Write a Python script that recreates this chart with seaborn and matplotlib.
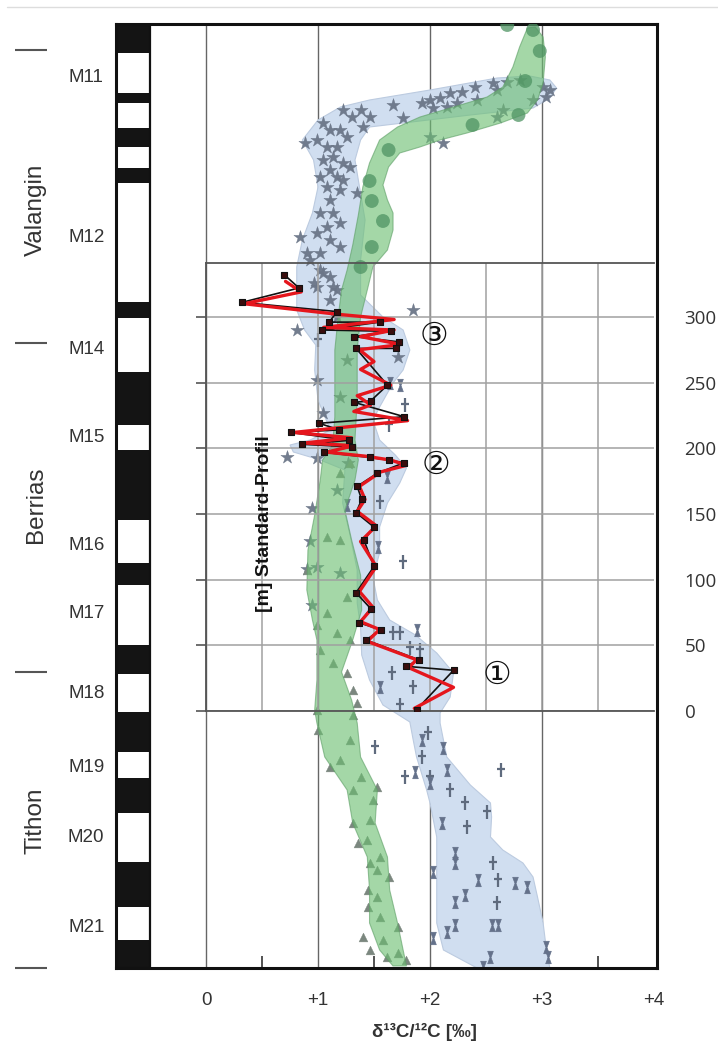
import numpy as np
import matplotlib
matplotlib.use("Agg")
import matplotlib.pyplot as plt
from matplotlib.lines import Line2D
from matplotlib.path import Path
import seaborn as sns

# ---------------- data ----------------
# composite column: relative height (0 = base of Tithon section, 944 = top)
chron_black_base = [915, 865, 821, 785, 650, 543, 448, 383, 294, 216, 155, 61, 0]
chron_black_top = [944, 875, 840, 800, 666, 596, 518, 405, 323, 256, 190, 106, 28]

chron_names = ['M11', 'M12', 'M14', 'M15', 'M16', 'M17', 'M18', 'M19', 'M20', 'M21']
chron_label_h = [890, 731, 619, 531, 422, 355, 275, 201, 131, 41]

stage_names = ['Valangin', 'Berrias', 'Tithon']
stage_label_h = [758, 463, 147]
stage_bounds_h = [918, 625, 296, 0]

# envelope of the star / cross data (blue)
blue_d13c = [0.81, 0.86, 0.95, 1.00, 0.96, 0.86, 1.00, 1.20, 1.46, 2.00, 2.60, 2.89, 3.07, 3.13,
             3.07, 2.92, 2.36, 1.76, 1.46, 1.38, 1.33, 1.36, 1.39, 1.42, 1.38, 1.38, 1.58, 1.76,
             1.82, 1.76, 1.67, 1.62, 1.55, 1.49, 1.55, 1.69, 1.79, 1.73, 1.62, 1.55, 1.55, 1.49,
             1.53, 1.64, 1.87, 2.06, 2.21, 2.18, 2.09, 2.09, 2.15, 2.36, 2.54, 2.55, 2.54, 2.65,
             2.83, 2.92, 2.96, 3.01, 3.04, 3.07, 2.42, 2.12, 2.06, 2.06, 2.06, 2.00, 1.97, 1.88,
             1.85, 1.82, 1.58, 1.46, 1.39, 1.38, 1.35, 1.35, 1.29, 1.22, 1.24, 1.02, 0.78, 0.75,
             0.93, 1.11, 1.00, 0.97, 0.98, 0.88, 0.81, 0.81]
blue_h = [701, 728, 755, 781, 808, 828, 848, 861, 868, 878, 890, 892, 888, 880,
          870, 860, 853, 845, 841, 828, 808, 788, 768, 748, 708, 673, 651, 638,
          618, 598, 585, 575, 561, 548, 528, 513, 500, 485, 465, 441, 415, 391,
          368, 348, 333, 315, 295, 271, 255, 245, 211, 183, 165, 151, 131, 118,
          105, 91, 71, 45, 18, 0, 0, 18, 45, 91, 131, 165, 178, 211,
          228, 246, 263, 288, 313, 341, 365, 398, 431, 465, 498, 508, 516, 523,
          528, 538, 568, 598, 623, 638, 658, 678]

# envelope of the circle / triangle data (green)
green_d13c = [2.87, 2.80, 2.74, 2.65, 2.51, 2.21, 1.91, 1.71, 1.55, 1.46, 1.40, 1.36, 1.31, 1.26,
              1.21, 1.18, 1.15, 1.15, 1.13, 1.04, 1.02, 0.97, 0.91, 0.90, 0.95, 0.99, 0.99, 0.97,
              0.99, 1.06, 1.26, 1.31, 1.44, 1.46, 1.46, 1.55, 1.67, 1.79, 1.76, 1.71, 1.64, 1.62,
              1.51, 1.53, 1.38, 1.35, 1.30, 1.21, 1.31, 1.39, 1.38, 1.30, 1.24, 1.33, 1.36, 1.33,
              1.35, 1.35, 1.38, 1.44, 1.49, 1.62, 1.67, 1.67, 1.62, 1.58, 1.63, 1.73, 1.91, 2.09,
              2.33, 2.63, 2.87, 2.96, 3.01, 3.03, 3.01, 2.94]
green_h = [940, 921, 901, 881, 871, 861, 851, 841, 828, 805, 781, 753, 723, 698,
           678, 651, 618, 551, 523, 508, 488, 453, 418, 378, 348, 328, 288, 258,
           245, 211, 178, 145, 111, 78, 45, 18, 2, 2, 18, 45, 78, 111,
           145, 178, 211, 245, 268, 296, 328, 358, 393, 428, 458, 488, 508, 528,
           568, 618, 651, 678, 701, 718, 738, 755, 768, 783, 801, 815, 821, 828,
           835, 845, 855, 868, 885, 911, 931, 941]

star_d13c = [1.67, 1.76, 1.93, 2.00, 2.03, 2.09, 2.15, 2.18, 2.24, 2.29, 2.40, 2.42, 2.56, 2.60,
             2.69, 2.80, 3.01, 3.07, 3.04, 2.92, 2.60, 2.65, 2.00, 2.12,
             1.22, 1.30, 1.38, 1.46, 1.40, 1.04, 1.11, 1.20, 1.26, 0.88, 0.99, 1.08, 1.17, 1.04,
             1.13, 1.22, 1.29, 1.11, 1.02, 1.17, 1.22, 1.08, 1.20, 1.35, 1.11, 1.02, 1.13, 1.08,
             1.20, 0.99, 0.84, 1.11, 1.02, 0.90, 1.20, 0.93, 1.04, 1.13, 0.99, 1.02, 1.11, 0.96,
             1.17, 1.11, 1.17, 0.81, 1.85, 1.71, 1.26, 0.99, 1.20, 1.04, 0.72, 0.99, 1.27, 1.17,
             0.95, 0.93, 0.90, 0.99, 1.20, 0.95]
star_h = [863, 850, 865, 868, 860, 870, 861, 875, 865, 876, 881, 868, 885, 878,
          886, 888, 881, 878, 871, 868, 851, 858, 831, 825,
          858, 851, 858, 851, 841, 845, 838, 838, 831, 825, 828, 821, 821, 808,
          811, 805, 801, 798, 791, 791, 788, 781, 778, 775, 768, 755, 755, 741,
          745, 735, 731, 728, 715, 715, 721, 708, 695, 681, 681, 698, 691, 685,
          678, 668, 651, 638, 658, 611, 608, 588, 571, 555, 511, 510, 505, 478,
          460, 427, 399, 401, 395, 363]

circle_d13c = [2.92, 2.69, 2.98, 2.85, 2.79, 2.38, 1.63, 1.46, 1.48, 1.58, 1.48, 1.38]
circle_h = [938, 943, 917, 887, 853, 843, 818, 787, 767, 747, 721, 701]

tri_d13c = [0.99, 1.00, 1.29, 1.31, 1.20, 1.11, 1.38, 1.31, 1.53, 1.49, 1.31, 1.46, 1.36, 1.44,
            1.55, 1.46, 1.53, 1.63, 1.45, 1.53, 1.55, 1.45, 1.40, 1.71, 1.58, 1.71, 1.79, 1.46,
            1.62, 1.20, 1.29, 1.08, 1.20, 0.90, 1.26, 1.08, 0.99, 1.17, 1.29, 1.13, 1.26, 1.31,
            1.35, 1.02]
tri_h = [258, 238, 228, 253, 208, 201, 191, 178, 181, 168, 145, 148, 125, 128,
         111, 105, 98, 91, 78, 71, 51, 61, 31, 41, 28, 15, 8, 18,
         11, 495, 505, 431, 428, 398, 371, 355, 343, 335, 328, 305, 295, 278,
         265, 318]

cross_d13c = [1.73, 1.51, 1.93, 1.78, 2.63, 2.18, 2.31, 2.51, 2.33, 2.56, 2.61, 2.60, 1.98, 2.00,
              1.55, 1.76, 1.67, 1.73, 1.66, 1.85, 1.82, 1.91, 1.78, 1.63, 1.00]
cross_h = [263, 221, 211, 191, 198, 178, 165, 156, 141, 105, 88, 65, 235, 191,
           466, 406, 335, 335, 295, 281, 320, 318, 563, 543, 628]

hourglass_d13c = [1.93, 2.12, 1.87, 2.15, 2.00, 2.11, 2.22, 2.22, 2.43, 2.76, 2.87, 2.31, 2.22, 2.55,
                  2.61, 2.22, 2.15, 2.03, 2.03, 2.54, 3.04, 3.05, 2.47, 1.26, 1.54, 1.88, 1.55, 1.62,
                  1.64, 1.73]
hourglass_h = [228, 220, 196, 198, 185, 145, 115, 105, 88, 85, 81, 73, 66, 43,
               43, 43, 36, 96, 30, 11, 21, 11, 1, 463, 421, 338, 281, 491,
               585, 583]

# Standard-Profil (metres) -- two curves
black_d13c = [1.88, 2.21, 1.79, 1.90, 1.43, 1.56, 1.37, 1.47, 1.34, 1.50, 1.41, 1.50, 1.34, 1.39,
              1.35, 1.53, 1.77, 1.63, 1.46, 1.05, 1.30, 0.86, 1.28, 0.76, 1.19, 1.01, 1.77, 1.32,
              1.47, 1.62, 1.34, 1.70, 1.72, 1.32, 1.65, 1.04, 1.55, 1.10, 1.17, 0.32, 0.83, 0.70]
black_m = [1, 31, 34, 39, 54, 62, 67, 78, 90, 110, 130, 140, 151, 161,
           171, 181, 189, 191, 193, 197, 201, 203, 206, 212, 214, 219, 224, 235,
           236, 248, 276, 276, 281, 285, 289, 290, 296, 296, 304, 311, 322, 332]

red_d13c = [1.86, 2.21, 1.81, 1.88, 1.44, 1.55, 1.38, 1.49, 1.37, 1.52, 1.38, 1.52, 1.35, 1.42,
            1.37, 1.56, 1.79, 1.65, 1.42, 1.08, 1.32, 0.88, 1.30, 0.78, 1.23, 1.80, 1.32, 1.47,
            1.35, 1.65, 1.38, 1.50, 1.37, 1.74, 1.38, 1.68, 1.05, 1.68, 1.17, 0.34, 0.85, 0.71]
red_m = [2, 18, 33, 39, 53, 62, 68, 79, 91, 110, 129, 141, 152, 161,
         171, 182, 187, 191, 194, 197, 202, 204, 208, 212, 216, 221, 228, 233,
         240, 248, 260, 266, 275, 279, 285, 290, 292, 298, 302, 310, 319, 327]

marker_labels = ['\u2460', '\u2461', '\u2462']
marker_label_d13c = [2.60, 2.05, 2.04]
marker_label_m = [27, 187, 285]

x_ticks = [0, 1, 2, 3, 4]
x_tick_labels = ['0', '+1', '+2', '+3', '+4']
x_minor = [0.5, 1.5, 2.5, 3.5]
m_ticks = [0, 50, 100, 150, 200, 250, 300]

# ---------------- style ----------------
sns.set_theme(style="white")
plt.rcParams['font.family'] = ['Liberation Sans', 'DejaVu Sans']
TXT = '#333333'

W, H = 718, 1053
fig = plt.figure(figsize=(W / 100, H / 100), dpi=100)
fig.add_artist(Line2D([7 / W, 1], [1 - 7 / H, 1 - 7 / H], color='#dddddd', lw=1))

ax = fig.add_axes([116 / W, (H - 968) / H, (657 - 116) / W, 944 / H])
ax.set_xlim(-0.804, 4.027)
ax.set_ylim(0, 944)

# polarity column
heights = np.array(chron_black_top) - np.array(chron_black_base)
ax.barh(chron_black_base, width=0.304, height=heights, left=-0.804, align='edge',
        color='#141414', linewidth=0, zorder=2)
ax.axvline(-0.5, color='#111111', lw=1.6, zorder=3)

for v in x_ticks[:-1]:
    ax.axvline(v, color='#666666', lw=1.0, zorder=0.5)

# envelopes and data clouds
ax.fill(blue_d13c, blue_h, facecolor='#d0def0', edgecolor='#bccbe0', lw=0.8, zorder=1)

dagger = Path([(0, -1), (0, 1), (-0.55, 0.15), (0.55, 0.15)],
              [Path.MOVETO, Path.LINETO, Path.MOVETO, Path.LINETO])
hourglass = Path([(-0.45, 1), (0.45, 1), (0.08, 0), (0.45, -1), (-0.45, -1), (-0.08, 0), (-0.45, 1)],
                 closed=True)

sns.scatterplot(x=star_d13c, y=star_h, marker='*', s=100, color='#6b7688',
                edgecolor='#6b7688', linewidth=0.3, alpha=0.95, ax=ax, zorder=2)
sns.scatterplot(x=tri_d13c, y=tri_h, marker='^', s=40, color='#7b877f',
                edgecolor='#7b877f', linewidth=0.3, ax=ax, zorder=2)
sns.scatterplot(x=cross_d13c, y=cross_h, marker=dagger, s=110, color='#5f6b7e',
                edgecolor='#5f6b7e', linewidth=1.6, ax=ax, zorder=2)
sns.scatterplot(x=hourglass_d13c, y=hourglass_h, marker=hourglass, s=80, color='#64718a',
                edgecolor='#64718a', linewidth=0.5, ax=ax, zorder=2)

ax.fill(green_d13c, green_h, facecolor='#6cbf72', edgecolor='#5e9f66', lw=0.8,
        alpha=0.62, zorder=3)
sns.scatterplot(x=circle_d13c, y=circle_h, marker='o', s=100, color='#4f9463',
                edgecolor='none', alpha=0.75, ax=ax, zorder=4)

# stage / chron annotation left of column
for name, h in zip(chron_names, chron_label_h):
    ax.text(-1.07, h, name, ha='center', va='center', fontsize=13.5, color=TXT, clip_on=False)
for name, h in zip(stage_names, stage_label_h):
    ax.text(-1.52, h, name, ha='center', va='center', rotation=90, fontsize=17.5,
            color=TXT, clip_on=False)
ax.hlines(stage_bounds_h, -1.71, -1.42, color='#555555', lw=1.5, clip_on=False)

for side in ['top', 'bottom', 'left', 'right']:
    ax.spines[side].set_visible(True)
    ax.spines[side].set_color('#111111')
    ax.spines[side].set_linewidth(2.2)

ax.set_xticks(x_ticks, x_tick_labels)
ax.set_xticks(x_minor, minor=True)
ax.set_yticks([])
ax.tick_params(axis='x', which='major', direction='in', length=0, pad=17,
               labelsize=13.5, labelcolor=TXT)
ax.tick_params(axis='x', which='minor', direction='in', length=9, width=1.3,
               color='#444444', bottom=True)
ax.set_ylabel('')
ax.set_xlabel('\u03b4\u00b9\u00b3C/\u00b9\u00b2C [\u2030]', fontsize=13.5, fontweight='bold', color=TXT)
ax.xaxis.set_label_coords((424 - 116) / 541, -(1032 - 968) / 944)
ax.xaxis.label.set_verticalalignment('center')

# ---------------- inset: Standard-Profil ----------------
ins = fig.add_axes([206 / W, (H - 711) / H, 448 / W, 448 / H])
ins.set_facecolor('none')
ins.set_xlim(0, 4)
ins.set_ylim(0, 341)
ins.set_xticks(np.arange(0.5, 4, 0.5))
ins.set_yticks(m_ticks)
ins.grid(True, color='#a0a0a0', lw=1.1, zorder=0)
ins.set_axisbelow(True)
ins.tick_params(axis='x', bottom=False, labelbottom=False)
ins.tick_params(axis='y', direction='out', length=7, width=1.2, color='#555555',
                left=True, right=False, labelleft=False, labelright=True, pad=15,
                labelsize=13.5, labelcolor=TXT, labelfontfamily='Open Sans')
for side in ['top', 'bottom', 'left']:
    ins.spines[side].set_visible(True)
    ins.spines[side].set_color('#555555')
    ins.spines[side].set_linewidth(1.3)
ins.spines['right'].set_visible(False)

sns.lineplot(x=black_d13c, y=black_m, sort=False, estimator=None, color='#111111',
             lw=1.2, ax=ins, zorder=5)
sns.lineplot(x=red_d13c, y=red_m, sort=False, estimator=None, color='#e5161d',
             lw=2.4, ax=ins, zorder=6)
sns.scatterplot(x=black_d13c, y=black_m, marker='s', s=16, color='#3a0d0d',
                edgecolor='#111111', linewidth=0.8, ax=ins, zorder=7)

for lab, xv, mv in zip(marker_labels, marker_label_d13c, marker_label_m):
    ins.text(xv, mv, lab, ha='center', va='center', fontsize=23, color='#111111',
             family=['DejaVu Sans'], zorder=8)
ins.text(0.52, 143, '[m] Standard-Profil', rotation=90, ha='center', va='center',
         fontsize=14, fontweight='bold', color='#111111', zorder=8)
ins.set_xlabel('')
ins.set_ylabel('')

fig.savefig('out.png', dpi=100)
